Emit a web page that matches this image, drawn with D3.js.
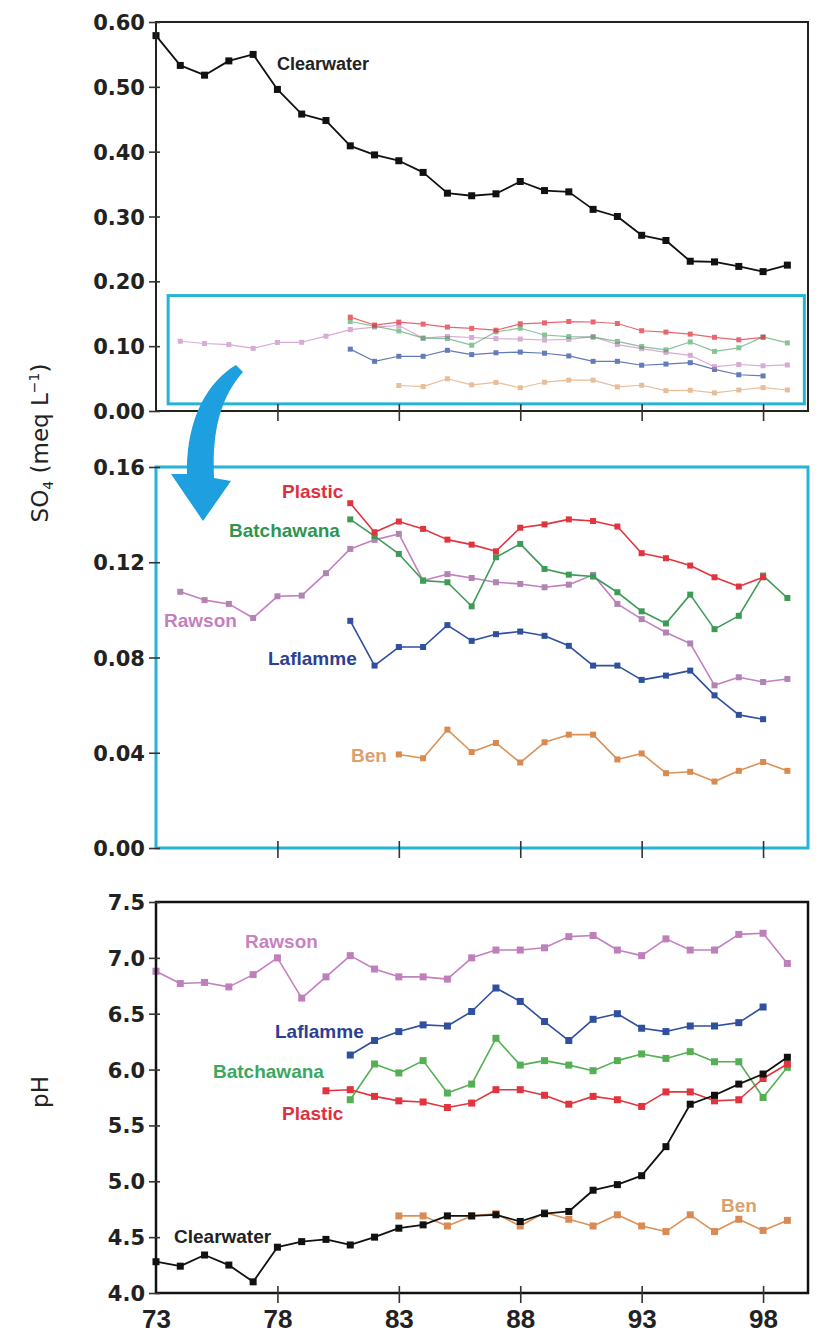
<!DOCTYPE html>
<html><head><meta charset="utf-8">
<script src="https://cdn.jsdelivr.net/npm/d3@7/dist/d3.min.js"></script>
<style>
html,body{margin:0;padding:0;background:#fff;}
svg{display:block;}
</style></head>
<body>
<svg id="chart" width="818" height="1335"></svg>
<script>
// ---------------- DATA ----------------
const years = [73,74,75,76,77,78,79,80,81,82,83,84,85,86,87,88,89,90,91,92,93,94,95,96,97,98,99];
const yearTicks = [73,78,83,88,93,98];
const so4TopTicks = [0.00,0.10,0.20,0.30,0.40,0.50,0.60];
const so4ZoomTicks = [0.00,0.04,0.08,0.12,0.16];
const phTicks = [4.0,4.5,5.0,5.5,6.0,6.5,7.0,7.5];

// SO4 (meq/L), one value per year 73..99 (null = no data)
const clearwaterSO4 = [0.579,0.533,0.518,0.540,0.550,0.496,0.458,0.448,0.409,0.395,0.386,0.368,0.336,0.332,0.335,0.354,0.340,0.338,0.311,0.300,0.271,0.263,0.231,0.230,0.223,0.215,0.225];
const plasticSO4 = [null,null,null,null,null,null,null,null,0.1448,0.1326,0.1371,0.1340,0.1295,0.1274,0.1246,0.1345,0.1359,0.1380,0.1373,0.1350,0.1238,0.1217,0.1186,0.1137,0.1098,0.1137,null];
const batchawanaSO4 = [null,null,null,null,null,null,null,null,0.1380,0.1310,0.1235,0.1123,0.1116,0.1015,0.1221,0.1277,0.1172,0.1148,0.1140,0.1074,0.0994,0.0943,0.1064,0.0919,0.0975,0.1144,0.1050];
const rawsonSO4 = [null,0.1076,0.1041,0.1025,0.0966,0.1057,0.1060,0.1154,0.1256,0.1294,0.1319,0.1123,0.1150,0.1134,0.1116,0.1109,0.1095,0.1106,0.1147,0.1025,0.0961,0.0905,0.0859,0.0683,0.0717,0.0697,0.0710];
const laflammeSO4 = [null,null,null,null,null,null,null,null,0.0954,0.0766,0.0844,0.0844,0.0936,0.0870,0.0898,0.0909,0.0891,0.0849,0.0766,0.0766,0.0706,0.0724,0.0745,0.0641,0.0559,0.0541,null];
const benSO4 = [null,null,null,null,null,null,null,null,null,null,0.0393,0.0377,0.0497,0.0403,0.0441,0.0359,0.0444,0.0476,0.0476,0.0372,0.0397,0.0314,0.0320,0.0279,0.0324,0.0361,0.0324];

// pH, one value per year 73..99
const clearwaterPH = [4.28,4.24,4.34,4.25,4.10,4.41,4.46,4.48,4.43,4.50,4.58,4.61,4.69,4.69,4.70,4.64,4.71,4.73,4.92,4.97,5.05,5.31,5.69,5.77,5.87,5.96,6.11];
const rawsonPH = [6.88,6.77,6.78,6.74,6.85,7.00,6.64,6.83,7.02,6.90,6.83,6.83,6.81,7.00,7.07,7.07,7.09,7.19,7.20,7.07,7.02,7.17,7.07,7.07,7.21,7.22,6.95];
const laflammePH = [null,null,null,null,null,null,null,null,6.13,6.26,6.34,6.40,6.39,6.52,6.73,6.61,6.43,6.26,6.45,6.50,6.37,6.34,6.39,6.39,6.42,6.56,null];
const batchawanaPH = [null,null,null,null,null,null,null,null,5.73,6.05,5.97,6.08,5.79,5.87,6.28,6.04,6.08,6.04,5.99,6.08,6.14,6.10,6.16,6.07,6.07,5.75,6.02];
const plasticPH = [null,null,null,null,null,null,null,5.81,5.82,5.76,5.72,5.71,5.66,5.70,5.82,5.82,5.77,5.69,5.76,5.73,5.67,5.80,5.80,5.72,5.73,5.92,6.05];
const benPH = [null,null,null,null,null,null,null,null,null,null,4.69,4.69,4.60,4.69,4.71,4.60,4.72,4.66,4.60,4.70,4.60,4.55,4.70,4.55,4.66,4.56,4.65];

// ---------------- STYLE ----------------
const C = {
  plastic:'#e2343f', batchawana:'#3d9b55', batchawanaPH:'#55b055', rawson:'#c47fc0',
  laflamme:'#2f4f9f', ben:'#d99257', clearwater:'#111111', cyan:'#25b4d6', arrow:'#1d9fe0'
};
const tickFont = "'DejaVu Sans', sans-serif";
const labelFont = "'Liberation Sans', Arial, sans-serif";

const svg = d3.select('#chart');
const x = d3.scaleLinear().domain([73, 99.85]).range([156, 808]);
const yTop = d3.scaleLinear().domain([0, 0.6]).range([411, 22]);
const yMid = d3.scaleLinear().domain([0, 0.16]).range([848, 467]);
const yPH = d3.scaleLinear().domain([4, 7.5]).range([1293, 902]);

function pts(vals){ return years.map((yr,i)=>({yr, v: vals[i]})).filter(d=>d.v!=null); }

function drawSeries(g, y, vals, color, ms, opts={}){
  const data = pts(vals);
  const line = d3.line().x(d=>x(d.yr)).y(d=>y(d.v));
  const grp = g.append('g').attr('opacity', opts.opacity==null?1:opts.opacity);
  grp.append('path').attr('d', line(data)).attr('fill','none')
    .attr('stroke', color).attr('stroke-width', opts.lw||1.6).attr('stroke-linejoin','round');
  grp.selectAll('rect').data(data).enter().append('rect')
    .attr('x', d=>x(d.yr)-ms/2).attr('y', d=>y(d.v)-ms/2)
    .attr('width', ms).attr('height', ms).attr('fill', opts.mfill||color);
}

function yAxis(y, ticks, fmt){
  const g = svg.append('g').attr('transform','translate(156,0)')
    .call(d3.axisLeft(y).tickValues(ticks).tickFormat(d3.format(fmt)).tickSize(7).tickPadding(4));
  g.select('.domain').remove();
  g.selectAll('.tick line').attr('x1',4).attr('stroke','#333').attr('stroke-width',1.6);
  g.selectAll('.tick text').attr('font-family', tickFont).attr('font-weight','bold')
    .attr('font-size', 21).attr('fill','#222').attr('dy','0.36em');
  return g;
}
function xTicks(yBase, showLabels){
  const g = svg.append('g').attr('transform',`translate(0,${yBase})`)
    .call(d3.axisBottom(x).tickValues(yearTicks).tickSize(10).tickPadding(6).tickFormat(d3.format('d')));
  g.select('.domain').remove();
  g.selectAll('.tick line').attr('y1',-7).attr('stroke','#333').attr('stroke-width',1.6);
  g.selectAll('.tick').filter(d=>d===73).select('line').remove();
  if(showLabels){
    g.selectAll('.tick text').attr('font-family', labelFont).attr('font-weight','bold')
      .attr('font-size', 26).attr('fill','#222').attr('y', 0).attr('dy', 35);
  } else g.selectAll('.tick text').remove();
}
function label(txt, xp, yp, color, size){
  svg.append('text').attr('x',xp).attr('y',yp).text(txt)
    .attr('font-family', labelFont).attr('font-weight','bold')
    .attr('font-size', size||19).attr('fill', color);
}

// ---------------- TOP PANEL (SO4 full range) ----------------
const gTop = svg.append('g');
gTop.append('rect').attr('x', x(73.5)).attr('y', yTop(0.178)).attr('width', x(99.7)-x(73.5))
  .attr('height', yTop(0.011)-yTop(0.178)).attr('fill','none').attr('stroke', C.cyan).attr('stroke-width',3);
drawSeries(gTop, yTop, benSO4, C.ben, 5, {opacity:0.6, lw:1.2});
drawSeries(gTop, yTop, laflammeSO4, C.laflamme, 5, {opacity:0.75, lw:1.2});
drawSeries(gTop, yTop, rawsonSO4, C.rawson, 5, {opacity:0.65, lw:1.2});
drawSeries(gTop, yTop, batchawanaSO4, C.batchawana, 5, {opacity:0.6, lw:1.2});
drawSeries(gTop, yTop, plasticSO4, C.plastic, 5, {opacity:0.75, lw:1.2});
drawSeries(gTop, yTop, clearwaterSO4, C.clearwater, 7, {lw:1.8});
gTop.append('rect').attr('x',156).attr('y',yTop(0.6)).attr('width',808-156).attr('height',yTop(0)-yTop(0.6))
  .attr('fill','none').attr('stroke','#222').attr('stroke-width',2);
yAxis(yTop, so4TopTicks, '.2f');
xTicks(yTop(0), false);
label('Clearwater', 277, 70, '#222', 18);

// ---------------- MIDDLE PANEL (SO4 zoom) ----------------
const gMid = svg.append('g');
drawSeries(gMid, yMid, benSO4, C.ben, 6, {mfill:'#d98a4f'});
drawSeries(gMid, yMid, laflammeSO4, C.laflamme, 6);
drawSeries(gMid, yMid, rawsonSO4, C.rawson, 6, {mfill:'#b184b4'});
drawSeries(gMid, yMid, batchawanaSO4, C.batchawana, 6);
drawSeries(gMid, yMid, plasticSO4, C.plastic, 6);
gMid.append('rect').attr('x',156).attr('y',yMid(0.16)).attr('width',808-156).attr('height',yMid(0)-yMid(0.16))
  .attr('fill','none').attr('stroke', C.cyan).attr('stroke-width',3);
yAxis(yMid, so4ZoomTicks, '.2f');
xTicks(yMid(0), false);
label('Plastic', 282, 498, '#e03040');
label('Batchawana', 229, 537, '#2e9650');
label('Rawson', 164, 627, '#c47fbf');
label('Laflamme', 268, 665, '#2d3f93');
label('Ben', 351, 762, '#dca06e');

// ---------------- BOTTOM PANEL (pH) ----------------
const gBot = svg.append('g');
drawSeries(gBot, yPH, rawsonPH, C.rawson, 7, {mfill:'#bf7fba'});
drawSeries(gBot, yPH, laflammePH, C.laflamme, 7);
drawSeries(gBot, yPH, batchawanaPH, C.batchawanaPH, 7);
drawSeries(gBot, yPH, plasticPH, C.plastic, 7);
drawSeries(gBot, yPH, benPH, C.ben, 7, {mfill:'#d98a55'});
drawSeries(gBot, yPH, clearwaterPH, C.clearwater, 7, {lw:1.8});
gBot.append('rect').attr('x',156).attr('y',yPH(7.5)).attr('width',808-156).attr('height',yPH(4)-yPH(7.5))
  .attr('fill','none').attr('stroke','#111').attr('stroke-width',2.5);
yAxis(yPH, phTicks, '.1f');
xTicks(yPH(4), true);
label('Rawson', 245, 948, '#c982c0');
label('Laflamme', 275, 1038, '#2d3f93');
label('Batchawana', 213, 1078, '#3aa860');
label('Plastic', 282, 1120, '#e03040');
label('Ben', 721, 1212, '#dca06e');
label('Clearwater', 174, 1243, '#222');

// ---------------- AXIS TITLES ----------------
const t1 = svg.append('text').attr('transform','translate(48,443) rotate(-90)')
  .attr('text-anchor','middle').attr('font-family', tickFont).attr('font-size',23).attr('fill','#222');
t1.append('tspan').text('SO');
t1.append('tspan').text('4').attr('font-size',14).attr('dy',5);
t1.append('tspan').text(' (meq L').attr('dy',-5);
t1.append('tspan').text('\u22121').attr('font-size',14).attr('dy',-9);
t1.append('tspan').text(')').attr('dy',9);
svg.append('text').attr('transform','translate(48,1092) rotate(-90)')
  .attr('text-anchor','middle').attr('font-family', tickFont).attr('font-size',23).attr('fill','#222').text('pH');

// ---------------- ARROW ----------------
svg.append('path')
  .attr('d','M 236,365 C 207,382 186,420 187,474 L 171,474 L 203,521 L 231,481 L 214,478 C 212,432 220,398 243,372 Z')
  .attr('fill', C.arrow);
</script>
</body></html>
